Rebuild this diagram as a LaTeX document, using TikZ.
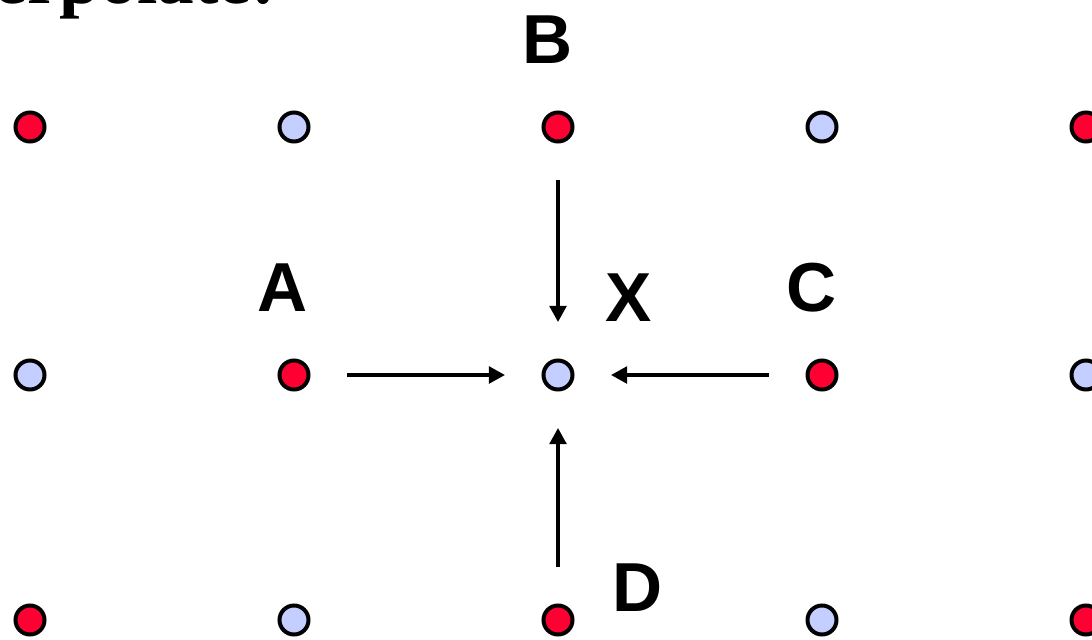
\documentclass[tikz,border=0pt]{standalone}
\usepackage{fontspec}
\setmainfont{Liberation Serif}
\newfontfamily\labfont{Liberation Sans}
\usetikzlibrary{arrows.meta}
\definecolor{ptred}{RGB}{255,0,51}
\definecolor{ptblue}{RGB}{196,206,255}
\begin{document}
\begin{tikzpicture}[x=0.75pt, y=-0.75pt]
    \tikzset{red pt/.style={circle,draw,line width=3pt,fill=ptred,inner sep=0pt,minimum size=21.75pt},
             blue pt/.style={circle,draw,line width=3pt,fill=ptblue,inner sep=0pt,minimum size=21.75pt},
             push/.style={line width=2.4pt,-{Triangle[length=12pt,width=12.5pt]},shorten <=27.4pt,shorten >=27.4pt},
             letter/.style={font=\labfont\bfseries\fontsize{52}{52}\selectfont,inner sep=0pt}}
    \useasboundingbox (0,0) rectangle (1092,639);
    \clip (0,0) rectangle (1092,639);

    % Heading, cut off by the top edge
    \node[anchor=base east, inner sep=0pt, font=\bfseries\fontsize{55}{55}\selectfont] (head) at (276,3) {interpolate:};

    % Row 1
    \node[red pt] (p11) at (30,127) {};
    \node[blue pt] (p12) at (294,127) {};
    \node[red pt] (p13) at (558,127) {};
    \node[blue pt] (p14) at (822,127) {};
    \node[red pt] (p15) at (1086,127) {};

    % Row 2
    \node[blue pt] (p21) at (30,375) {};
    \node[red pt] (p22) at (294,375) {};
    \node[blue pt] (p23) at (558,375) {};
    \node[red pt] (p24) at (822,375) {};
    \node[blue pt] (p25) at (1086,375) {};

    % Row 3
    \node[red pt] (p31) at (30,620) {};
    \node[blue pt] (p32) at (294,620) {};
    \node[red pt] (p33) at (558,620) {};
    \node[blue pt] (p34) at (822,620) {};
    \node[red pt] (p35) at (1086,620) {};

    % Letters
    \node[letter] (labA) at (283,288) {A};
    \node[letter] (labB) at (548,40) {B};
    \node[letter] (labC) at (812,288) {C};
    \node[letter] (labD) at (638,588) {D};
    \node[letter] (labX) at (629,298) {X};

    % Arrows into X
    \draw[push] (p13) -- (p23);
    \draw[push] (p22) -- (p23);
    \draw[push] (p24) -- (p23);
    \draw[push] (p33) -- (p23);
\end{tikzpicture}
\end{document}
